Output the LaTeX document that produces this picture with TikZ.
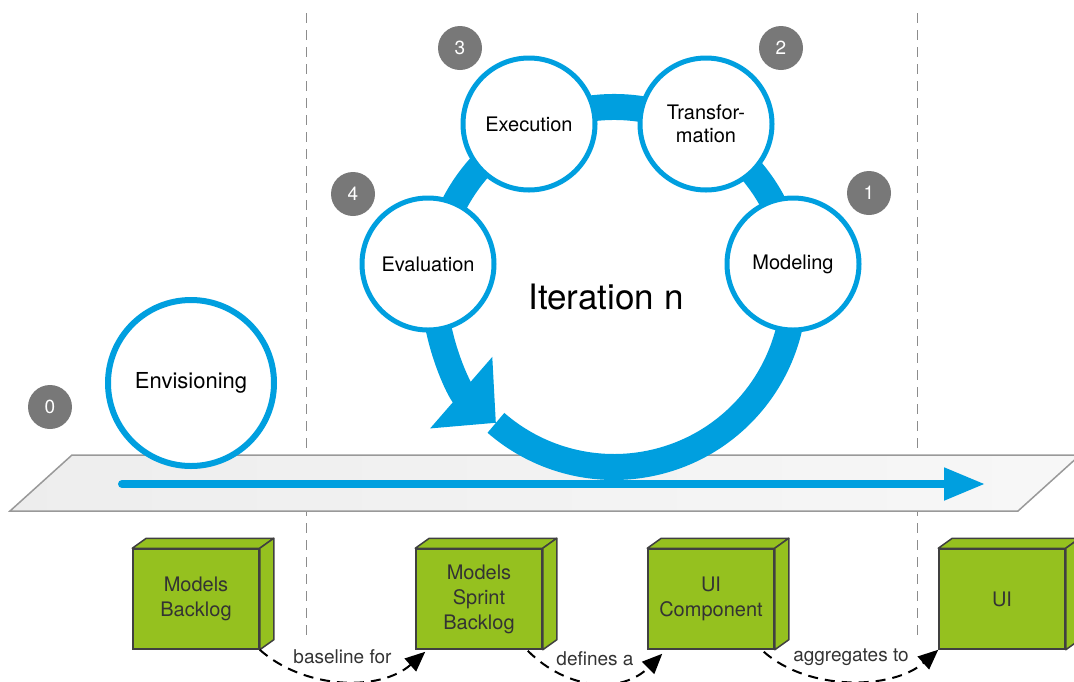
\documentclass[tikz,border=0pt]{standalone}
\usepackage{fontspec}
\setmainfont{TeX Gyre Heros}
\usetikzlibrary{arrows.meta,calc}
\definecolor{iterblue}{HTML}{009FDF}
\definecolor{cubegreen}{HTML}{95C11F}
\definecolor{badgegray}{HTML}{787878}
\definecolor{edgegray}{HTML}{404040}

\tikzset{
  phase/.style={circle, draw=iterblue, line width=5pt, fill=white, minimum size=132pt, inner sep=0pt, align=center, font=\fontsize{20}{23}\selectfont},
  badge/.style={circle, fill=badgegray, minimum size=44pt, inner sep=0pt, text=white, font=\fontsize{19}{20}\selectfont},
  artefact/.style={rectangle, draw=edgegray, line width=1.5pt, fill=cubegreen, minimum width=126pt, minimum height=100pt, align=center, text=black!80, font=\fontsize{20}{25}\selectfont},
  cubeside/.style={draw=edgegray, line width=1.5pt, fill=cubegreen, line join=round},
  relation/.style={draw=black, line width=2pt, dash pattern=on 10pt off 7pt, -{Triangle[length=20pt,width=17pt]}},
  rellabel/.style={midway, yshift=24pt, text=black!80, font=\fontsize{19}{20}\selectfont},
  sepline/.style={draw=black!45, line width=1pt, dash pattern=on 10pt off 7pt}
}

\begin{document}
\begin{tikzpicture}[x=1pt, y=-1pt]
	\useasboundingbox (0,0) rectangle (1074,681);
	\draw[sepline] (306,13) -- (306,642);
	\draw[sepline] (917,13) -- (917,642);
	\draw[draw=black!40, line width=1.5pt, left color=black!7, right color=black!3] (72,455) -- (1080,455) -- (1018,511) -- (10,511) -- cycle;

	\coordinate (ctr) at (614,287);
	\draw[iterblue, line width=26pt] (ctr) ++(-190:180) arc[start angle=-190, end angle=131, radius=180];
	\draw[iterblue, line width=26pt, -{Triangle[width=92pt,length=46pt]}] (ctr) ++(176:180) arc[start angle=176, end angle=131, radius=180];

	\node[phase] (eval) at (428,264) {Evaluation};
	\node[phase] (exec) at (529,124) {Execution};
	\node[phase] (trans) at (706,124) {Transfor-\\mation};
	\node[phase] (model) at (793,264) {Modeling};
	\node[phase, minimum size=166pt, line width=6pt, font=\fontsize{22}{24}\selectfont] (envis) at (191,383) {Envisioning};
	\node[anchor=base, font=\fontsize{35}{40}\selectfont] (iter) at (606,309) {Iteration n};

	\node[badge] (b0) at (50,407) {0};
	\node[badge] (b1) at (869,193) {1};
	\node[badge] (b2) at (781,48) {2};
	\node[badge] (b3) at (460,48) {3};
	\node[badge] (b4) at (353,194) {4};

	\coordinate (tstart) at (122,484);
	\coordinate (tend) at (985,484);
	\draw[iterblue, line width=8pt, line cap=round, -{Triangle[width=31pt,length=41pt]}] (tstart) -- (tend);

	\node[artefact] (mb) at (196,599) {Models\\Backlog};
	\node[artefact] (msb) at (479,599) {Models\\Sprint\\Backlog};
	\node[artefact] (uic) at (711,599) {UI\\Component};
	\node[artefact] (ui) at (1002,599) {UI};
	\foreach \c in {mb,msb,uic,ui} {
		\draw[cubeside] (\c.north west) -- ++(14,-10) -- ($(\c.north east)+(14,-10)$) -- (\c.north east) -- cycle;
		\draw[cubeside] (\c.north east) -- ++(14,-10) -- ($(\c.south east)+(14,-10)$) -- (\c.south east) -- cycle;
	}

	\draw[relation] (mb.south east) .. controls +(45,40) and +(-45,40) .. ($(msb.south west)+(10,2)$) node[rellabel] {baseline for};
	\draw[relation] ($(msb.south east)+(-15,1)$) .. controls +(40,40) and +(-40,40) .. ($(uic.south west)+(15,4)$) node[rellabel] {defines a};
	\draw[relation] ($(uic.south east)+(-11,2)$) .. controls +(45,40) and +(-45,40) .. (ui.south west) node[rellabel] {aggregates to};
\end{tikzpicture}
\end{document}
